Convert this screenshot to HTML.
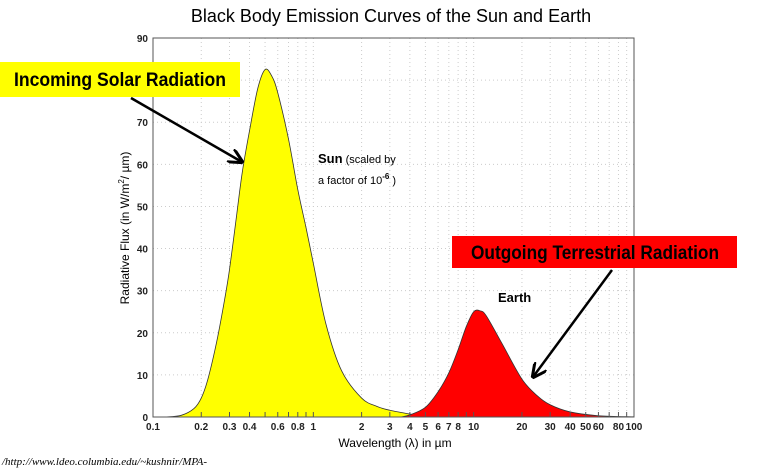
<!DOCTYPE html>
<html><head><meta charset="utf-8"><style>
body{margin:0;background:#fff;width:759px;height:469px;overflow:hidden;font-family:"Liberation Sans",sans-serif}
</style></head><body>
<svg id="chart" width="759" height="469" xmlns="http://www.w3.org/2000/svg">
<text x="391" y="22" text-anchor="middle" font-size="18" font-family="Liberation Sans, sans-serif">Black Body Emission Curves of the Sun and Earth</text>
<g id="grid"></g>
<g id="series"></g>
<rect x="153" y="38" width="481" height="379" fill="none" stroke="#555" stroke-width="1"/>
<g id="axes" font-size="10" font-weight="bold" fill="#222"></g>
<text x="395" y="447" text-anchor="middle" font-size="12">Wavelength (λ) in µm</text>
<text transform="translate(129,228) rotate(-90)" text-anchor="middle" font-size="12">Radiative Flux (in W/m<tspan dy="-5" font-size="8">2</tspan><tspan dy="5">/ µm)</tspan></text>
<text x="318" y="163" font-size="13"><tspan font-weight="bold">Sun</tspan><tspan font-size="11"> (scaled by</tspan></text>
<text x="318" y="184" font-size="11">a factor of 10<tspan dy="-5" font-size="8" font-weight="bold">-6</tspan><tspan dy="5"> )</tspan></text>
<text x="498" y="302" font-size="13" font-weight="bold">Earth</text>
<rect x="0" y="62" width="240" height="35" fill="#ffff00"/>
<text x="14" y="86" font-size="19" font-weight="bold" textLength="212" lengthAdjust="spacingAndGlyphs">Incoming Solar Radiation</text>
<rect x="452" y="236" width="285" height="32" fill="#ff0000"/>
<text x="471" y="259" font-size="19" font-weight="bold" textLength="248" lengthAdjust="spacingAndGlyphs">Outgoing Terrestrial Radiation</text>
<defs><marker id="ah" viewBox="0 0 10 10" refX="9" refY="5" markerWidth="6" markerHeight="6" orient="auto"><path d="M0,0 L10,5 L0,10" fill="none" stroke="#000" stroke-width="2"/></marker></defs>
<line x1="131" y1="98" x2="242" y2="162" stroke="#000" stroke-width="2.5" marker-end="url(#ah)"/>
<line x1="612" y1="270" x2="533" y2="377" stroke="#000" stroke-width="2.5" marker-end="url(#ah)"/>
<text x="2" y="465" font-size="11" font-style="italic" font-family="Liberation Serif, serif">/http://www.ldeo.columbia.edu/~kushnir/MPA-</text>
</svg>
<script>
const sunWavelengths=[0.12,0.15,0.18,0.2,0.22,0.25,0.28,0.3,0.33,0.36,0.4,0.45,0.5,0.55,0.6,0.7,0.8,0.9,1,1.2,1.5,2,2.5,3,4,4.6];
const sunFlux=[0,0.4,2,4.5,9,18,28,35,47,58,68,78,82.5,81,77,66,54,45,36.5,22,11,4.5,2.5,1.6,0.7,0.4];
const earthWavelengths=[3.5,4,5,6,7,8,9,10,11,12,15,20,25,30,40,60,100];
const earthFlux=[0,0.5,2.3,6,10.5,16,21.5,25,25.2,24,17.5,9,5,2.9,1.2,0.3,0.05];
const yTicks=[0,10,20,30,40,50,60,70,80,90];
const xTickValues=[0.1,0.2,0.3,0.4,0.5,0.6,0.7,0.8,0.9,1,2,3,4,5,6,7,8,9,10,20,30,40,50,60,70,80,90,100];
const xTickLabels=["0.1","0.2","0.3","0.4","","0.6","","0.8","","1","2","3","4","5","6","7","8","","10","20","30","40","50","60","","80","","100"];
const NS="http://www.w3.org/2000/svg";
const X0=153,X1=634,Y0=417,Y1=38;
const xs=v=>X0+(Math.log10(v)+1)/3*(X1-X0);
const ys=v=>Y0-v/90*(Y0-Y1);
function el(t,a,p){const e=document.createElementNS(NS,t);for(const k in a)e.setAttribute(k,a[k]);p.appendChild(e);return e;}
const grid=document.getElementById('grid'),axes=document.getElementById('axes'),series=document.getElementById('series');
yTicks.forEach(v=>{
 const g=el('line',{x1:X0,x2:X1,y1:ys(v),y2:ys(v),stroke:'#ccc','stroke-dasharray':'1,3'},grid);
 
 
 const t=el('text',{x:X0-5,y:ys(v)+4,'text-anchor':'end'},axes);
 
 
 t.textContent=v;
});
xTickValues.forEach((v,i)=>{
 const g=el('line',{x1:xs(v),x2:xs(v),y1:Y1,y2:Y0,stroke:'#ccc','stroke-dasharray':'1,3'},grid);
 
 
 const tk=el('line',{x1:xs(v),x2:xs(v),y1:Y0,y2:Y0-5,stroke:'#555'},axes);
 
 
 const t=el('text',{x:xs(v),y:Y0+13,'text-anchor':'middle'},axes);
 
 
 t.textContent=xTickLabels[i];
});
function curve(wl,fl){
 const p=wl.map((w,i)=>[xs(w),ys(fl[i])]);
 let d='M'+p[0][0]+','+Y0+' L'+p[0][0]+','+p[0][1];
 for(let i=0;i<p.length-1;i++){
  const a=p[Math.max(0,i-1)],b=p[i],c=p[i+1],e=p[Math.min(p.length-1,i+2)];
  const c1=[b[0]+(c[0]-a[0])/6,b[1]+(c[1]-a[1])/6],c2=[c[0]-(e[0]-b[0])/6,c[1]-(e[1]-b[1])/6];
  d+=' C'+c1+' '+c2+' '+c;
 }
 return d+' L'+p[p.length-1][0]+','+Y0+' Z';
}
const s=el('path',{d:curve(sunWavelengths,sunFlux),fill:'#ffff00',stroke:'#333','stroke-width':'0.8'},series);


const e=el('path',{d:curve(earthWavelengths,earthFlux),fill:'#ff0000',stroke:'#333','stroke-width':'0.8'},series);


</script>
</body></html>
